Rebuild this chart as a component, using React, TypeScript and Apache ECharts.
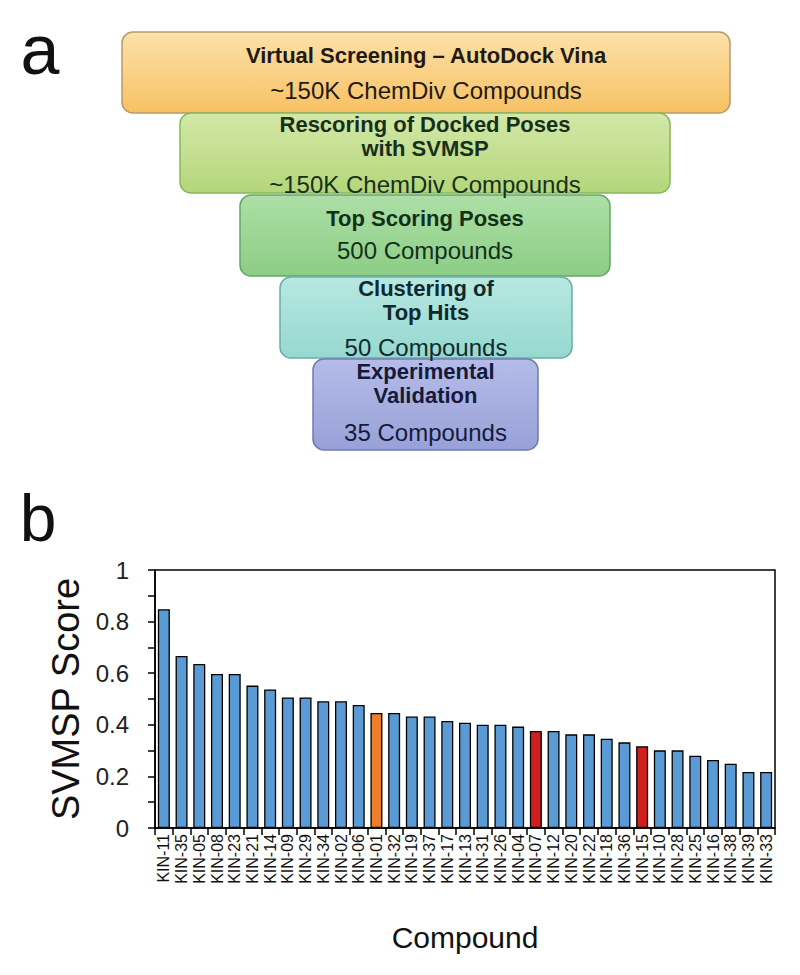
import React, { useEffect, useRef } from "react";
import * as echarts from "echarts";

const categories = [
  "KIN-11", "KIN-35", "KIN-05", "KIN-08", "KIN-23", "KIN-21", "KIN-14", "KIN-09", "KIN-29",
  "KIN-34", "KIN-02", "KIN-06", "KIN-01", "KIN-32", "KIN-19", "KIN-37", "KIN-17", "KIN-13",
  "KIN-31", "KIN-26", "KIN-04", "KIN-07", "KIN-12", "KIN-20", "KIN-22", "KIN-18", "KIN-36",
  "KIN-15", "KIN-10", "KIN-28", "KIN-25", "KIN-16", "KIN-38", "KIN-39", "KIN-33",
];
const scores = [
  0.848, 0.667, 0.636, 0.597, 0.597, 0.552, 0.537, 0.506, 0.506,
  0.491, 0.491, 0.477, 0.446, 0.446, 0.432, 0.432, 0.415, 0.408,
  0.4, 0.4, 0.393, 0.376, 0.376, 0.363, 0.363, 0.346, 0.332,
  0.317, 0.301, 0.301, 0.28, 0.264, 0.249, 0.217, 0.217,
];
const orangeCompounds = ["KIN-01"];
const redCompounds = ["KIN-07", "KIN-15"];

const stageTitles = [
  ["Virtual Screening – AutoDock Vina"],
  ["Rescoring of Docked Poses", "with SVMSP"],
  ["Top Scoring Poses"],
  ["Clustering of", "Top Hits"],
  ["Experimental", "Validation"],
];
const stageCounts = [
  "~150K ChemDiv Compounds",
  "~150K ChemDiv Compounds",
  "500 Compounds",
  "50 Compounds",
  "35 Compounds",
];

// layout (pixels) for the funnel boxes; titleY is the centre of the title block
const boxLayout = [
  { x: 122, y: 32, w: 608, h: 81, titleY: 55, countY: 90 },
  { x: 180, y: 113, w: 490, h: 80, titleY: 136, countY: 184 },
  { x: 240, y: 195, w: 370, h: 81, titleY: 218, countY: 250 },
  { x: 280, y: 277, w: 292, h: 81, titleY: 300, countY: 347 },
  { x: 313, y: 359, w: 225, h: 91, titleY: 383, countY: 432 },
];
const boxStyles = [
  { top: "#fde1a9", bottom: "#f8c163", stroke: "#b59a6e", text: "#1f1a12" },
  { top: "#d3e8a8", bottom: "#b4d679", stroke: "#86b95a", text: "#17301b" },
  { top: "#addfa6", bottom: "#8ccd86", stroke: "#63a868", text: "#12301a" },
  { top: "#b8e8e2", bottom: "#95d8cf", stroke: "#68aea6", text: "#0f2a2d" },
  { top: "#b5bce8", bottom: "#98a1d8", stroke: "#6f7bb0", text: "#161a3a" },
];

const FONT = '"Liberation Sans", Arial, Helvetica, sans-serif';

export default function App() {
  const ref = useRef<HTMLDivElement>(null);

  useEffect(() => {
    if (!ref.current) return;
    const chart = echarts.init(ref.current, undefined, { renderer: "svg" });

    const graphics: any[] = [];
    boxLayout.forEach((b, i) => {
      const s = boxStyles[i];
      graphics.push({
        type: "rect",
        shape: { x: b.x, y: b.y, width: b.w, height: b.h, r: 11 },
        style: {
          fill: new echarts.graphic.LinearGradient(0, 0, 0, 1, [
            { offset: 0, color: s.top },
            { offset: 1, color: s.bottom },
          ]),
          stroke: s.stroke,
          lineWidth: 1.5,
        },
        z: 10 + i,
      });
    });
    boxLayout.forEach((b, i) => {
      const s = boxStyles[i];
      const cx = b.x + b.w / 2;
      graphics.push({
        type: "text",
        x: cx,
        y: b.titleY,
        z: 30,
        style: {
          text: stageTitles[i].join("\n"),
          fontFamily: FONT,
          fontSize: 22,
          lineHeight: 24,
          fontWeight: "bold",
          fill: s.text,
          align: "center",
          verticalAlign: "middle",
        },
      });
      graphics.push({
        type: "text",
        x: cx,
        y: b.countY,
        z: 30,
        style: {
          text: stageCounts[i],
          fontFamily: FONT,
          fontSize: 24,
          fill: s.text,
          align: "center",
          verticalAlign: "middle",
        },
      });
    });
    graphics.push({
      type: "text",
      x: 40,
      y: 50,
      style: { text: "a", fontFamily: FONT, fontSize: 70, fill: "#111", align: "center", verticalAlign: "middle" },
    });
    graphics.push({
      type: "text",
      x: 38,
      y: 518,
      style: { text: "b", fontFamily: FONT, fontSize: 66, fill: "#111", align: "center", verticalAlign: "middle" },
    });

    const barData = categories.map((c, i) => {
      let color = "#5b9bd5";
      if (orangeCompounds.includes(c)) color = "#ee7d2c";
      if (redCompounds.includes(c)) color = "#cf1f1f";
      return { value: scores[i], itemStyle: { color } };
    });

    chart.setOption({
      animation: false,
      backgroundColor: "#ffffff",
      textStyle: { fontFamily: FONT },
      graphic: graphics,
      grid: {
        left: 155,
        right: 25,
        top: 570,
        bottom: 147,
        show: true,
        borderColor: "#000",
        borderWidth: 1.5,
        backgroundColor: "transparent",
      },
      xAxis: {
        type: "category",
        data: categories,
        name: "Compound",
        nameLocation: "middle",
        nameGap: 94,
        nameTextStyle: { fontSize: 30, color: "#111", fontFamily: FONT },
        axisLine: { lineStyle: { color: "#000", width: 1.5 } },
        axisTick: { show: true, length: 7, lineStyle: { color: "#000", width: 1.5 }, alignWithLabel: false },
        axisLabel: {
          rotate: 90,
          interval: 0,
          fontSize: 16,
          color: "#111",
          margin: 6,
          fontFamily: FONT,
        },
        splitLine: { show: false },
      },
      yAxis: {
        type: "value",
        min: 0,
        max: 1,
        interval: 0.1,
        name: "SVMSP Score",
        nameLocation: "middle",
        nameGap: 64,
        nameTextStyle: { fontSize: 38, color: "#111", fontFamily: FONT },
        axisLine: { show: true, lineStyle: { color: "#000", width: 1.5 } },
        axisTick: { show: true, length: 7, lineStyle: { color: "#000", width: 1.5 } },
        splitLine: { show: false },
        axisLabel: {
          fontSize: 24,
          color: "#222",
          margin: 26,
          fontFamily: FONT,
          formatter: (v: number) => {
            const k = Math.round(v * 10);
            if (k % 2 !== 0) return "";
            return String(k / 10);
          },
        },
      },
      series: [
        {
          type: "bar",
          data: barData,
          barWidth: 12,
          itemStyle: { borderColor: "#000", borderWidth: 1.3 },
        },
      ],
    });

    return () => chart.dispose();
  }, []);

  return (
    <div
      ref={ref}
      style={{ position: "fixed", left: 0, top: 0, width: 800, height: 975, background: "#fff" }}
    />
  );
}
